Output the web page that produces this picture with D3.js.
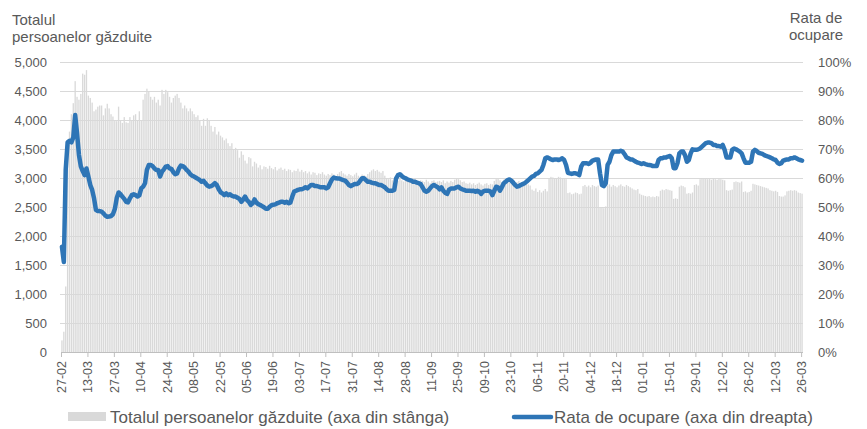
<!DOCTYPE html>
<html><head><meta charset="utf-8">
<script src="https://cdn.jsdelivr.net/npm/d3@7"></script>
<style>
html,body{margin:0;padding:0;background:#fff;}
svg text{font-family:"Liberation Sans",Arial,sans-serif;fill:#595959;}
</style></head>
<body><svg id="c" width="867" height="429"></svg>
<script>
// ---- data ----
const startDate = new Date(2022, 1, 27);
const endDate = new Date(2023, 2, 27);
const categories = d3.timeDay.range(startDate, endDate).map(d3.timeFormat("%d-%m"));
const tickLabels = ["27-02","13-03","27-03","10-04","24-04","08-05","22-05","05-06","19-06","03-07","17-07","31-07","14-08","28-08","11-09","25-09","09-10","23-10","06-11","20-11","04-12","18-12","01-01","15-01","29-01","12-02","26-02","12-03","26-03"];
const leftTicks = [0,500,1000,1500,2000,2500,3000,3500,4000,4500,5000];
const rightTicks = [0,10,20,30,40,50,60,70,80,90,100];
const hosted = [
200,350,1130,3500,3800,4100,4290,4670,4400,4350,
4450,4800,4780,4860,4420,4380,4300,4150,4180,4230,
4250,4250,4080,4200,4280,4200,4100,4060,4000,3980,
4230,4000,3950,4050,3960,3950,4050,4000,4080,4100,
4000,4150,4000,4350,4450,4540,4500,4400,4350,4400,
4300,4350,4250,4520,4450,4520,4480,4400,4300,4380,
4420,4450,4380,4300,4200,4250,4200,4150,4200,4150,
4100,4050,4080,4000,3900,4020,3900,4030,4000,3900,
3800,3880,3750,3800,3730,3700,3650,3680,3600,3550,
3600,3500,3520,3480,3350,3460,3400,
3300,3250,3360,3340,3200,3280,3250,3180,3220,3150,
3200,3190,3160,3210,3170,3150,3190,3130,3160,3180,
3140,3160,3120,3150,3140,3100,3130,3120,3160,3110,
3140,3100,3120,3080,3110,3060,3100,3090,3050,3080,
3070,3100,3060,3040,3070,3050,3080,3060,3030,3070,
3100,3120,3080,3060,3040,3070,3050,3030,3060,3090,
3040,3020,3060,3050,3030,3070,3100,3130,3150,3120,
3140,3110,3090,3120,3040,3000,2980,3010,2960,2990,
2970,2950,3000,2960,2940,2980,2970,2930,2960,2950,
2990,2940,2920,2960,2950,2930,2970,2940,2910,2950,
2960,2930,2940,2950,2930,2960,2910,2940,2920,2950,
2930,2970,2990,2980,2960,2930,2940,2910,2900,2920,
2890,2910,2880,2900,2920,2890,2870,2900,2910,2880,
2900,2890,2950,2980,2990,2960,2930,2970,2990,2950,
2920,2960,2940,2910,2930,2950,2900,2920,2880,2900,
2890,2870,2800,2780,2820,2760,2790,2750,2780,2810,
2770,3000,3020,3010,2990,3000,3020,3010,2990,3000,
2980,2740,2750,2720,2730,2750,2740,2720,2730,2860,
2880,2850,2870,2840,2880,2860,2850,2870,2500,2500,
2480,2510,2870,2890,2850,2880,2860,2840,2870,2890,
2860,2850,2880,2860,2840,2820,2800,2790,2810,2730,
2710,2700,2690,2680,2690,2670,2680,2670,2690,2680,
2780,2800,2790,2810,2800,2790,2780,2640,2650,2640,
2850,2870,2860,2840,2730,2740,2730,2750,2880,2890,
2870,2980,2990,3000,2990,2980,2990,2970,2990,2980,
2970,2990,2980,2970,2960,2790,2780,2790,2800,2930,
2940,2930,2920,2940,2760,2770,2750,2760,2780,2900,
2890,2880,2870,2860,2850,2840,2830,2820,2790,2780,
2770,2780,2760,2690,2680,2680,2700,2770,2780,2790,
2780,2790,2780,2750,2740,2730];
const occupancy = [
36.3,31.0,63.0,72.3,72.8,72.3,74.0,81.7,75.4,68.0,
64.0,62.4,61.0,63.3,60.5,57.6,55.9,53.0,49.0,48.6,
48.6,48.4,47.8,47.0,46.6,46.7,46.9,47.5,49.3,53.0,
55.0,54.4,53.6,52.8,51.8,51.6,53.0,54.1,54.4,54.1,
53.6,54.0,56.4,57.0,58.2,62.8,64.5,64.5,64.1,63.3,
62.8,62.8,60.5,62.2,63.0,63.9,64.1,63.3,63.1,62.0,
61.3,61.6,63.3,64.3,64.1,63.6,62.8,62.2,61.3,60.8,
60.5,60.1,59.7,59.3,58.7,59.0,58.2,57.4,57.0,57.2,
57.6,58.2,57.6,56.2,55.1,54.7,54.1,54.7,54.1,54.4,
53.9,53.6,53.6,53.2,52.8,51.8,52.6,53.6,52.4,51.8,
50.7,51.3,52.6,51.5,51.0,50.7,50.3,49.9,49.4,49.4,
50.1,50.6,50.8,50.9,51.3,51.5,51.8,51.8,51.5,51.8,
51.3,51.5,53.6,55.3,55.6,55.9,56.1,56.1,56.4,56.8,
56.4,57.0,57.6,57.6,57.2,57.2,57.0,56.8,56.8,56.8,
56.4,56.8,58.2,59.5,60.2,59.9,59.8,59.8,59.5,59.3,
59.1,58.4,57.6,57.2,57.6,57.9,57.9,58.2,59.1,59.9,
59.9,59.3,58.7,58.7,58.4,58.2,58.2,57.9,57.6,57.6,
57.2,56.8,56.1,55.6,55.6,55.6,55.9,59.9,61.0,61.3,
60.7,60.2,59.9,59.5,59.3,59.1,58.7,58.7,58.4,58.2,
57.9,56.8,55.6,55.3,55.6,56.4,57.2,57.6,57.2,56.8,
56.1,56.8,55.6,54.9,54.5,55.9,56.4,56.4,56.4,56.8,
57.0,56.4,56.1,55.9,55.6,55.6,55.6,55.5,55.6,55.3,
55.6,55.3,54.5,55.3,55.6,55.6,55.6,55.3,54.1,55.6,
57.0,56.8,55.6,56.8,58.2,58.7,59.3,59.5,59.1,58.4,
57.6,57.0,57.2,57.6,57.9,58.2,58.7,59.3,59.9,60.5,
60.7,61.4,61.6,62.2,62.8,64.5,66.8,67.1,66.8,66.4,
66.2,66.4,66.4,66.2,66.4,66.8,66.2,64.5,61.8,61.6,
61.4,61.6,61.6,61.4,61.0,63.9,65.1,65.1,65.1,64.8,
65.3,66.0,66.2,66.4,66.4,61.6,57.6,57.2,58.1,64.5,
65.6,67.9,69.1,69.1,69.1,69.1,69.4,69.1,68.2,67.1,
66.8,66.4,66.4,66.0,65.6,65.3,65.1,64.8,65.1,64.8,
64.6,64.5,64.4,64.1,64.1,64.1,66.2,66.8,66.8,67.1,
67.1,67.4,67.6,66.8,63.4,63.4,65.1,68.5,69.1,69.1,
67.9,65.6,66.2,68.5,69.9,69.7,69.7,69.9,70.2,70.8,
71.4,72.0,72.2,72.2,72.0,71.4,71.4,71.0,71.0,70.8,
71.4,69.7,67.1,67.1,67.1,69.7,70.2,69.9,69.5,69.1,
68.5,66.8,65.3,65.3,65.3,65.6,69.1,69.7,69.3,68.7,
68.5,68.3,67.9,67.6,67.4,67.1,66.8,66.4,66.2,65.3,
64.8,65.1,66.0,66.2,66.4,66.4,66.8,66.8,67.1,66.8,
66.4,66.2,66.0];

// ---- chart ----
const svg = d3.select("#c");
const x0 = 61, x1 = 803, yTop = 62, yBot = 352;
const n = Math.min(categories.length, hosted.length, occupancy.length);
const idx = d3.range(n);
const x = d3.scaleBand().domain(idx).range([x0, x1]).paddingInner(0.3).paddingOuter(0.15);
const yL = d3.scaleLinear().domain([0, 5000]).range([yBot, yTop]);
const yR = d3.scaleLinear().domain([0, 100]).range([yBot, yTop]);

// gridlines
svg.append("g").selectAll("line").data(leftTicks.slice(1)).join("line")
  .attr("x1", x0 - 1).attr("x2", x1).attr("y1", d => yL(d) + 0.5).attr("y2", d => yL(d) + 0.5)
  .attr("stroke", "#d9d9d9").attr("stroke-width", 1);

// bars
svg.append("g").selectAll("rect").data(idx).join("rect")
  .attr("x", i => x(i)).attr("width", x.bandwidth())
  .attr("y", i => yL(hosted[i])).attr("height", i => yBot - yL(hosted[i]))
  .attr("fill", "#d9d9d9");

// x axis
const step = (x1 - x0) / n;
svg.append("line").attr("x1", x0).attr("x2", x1).attr("y1", yBot + 0.5).attr("y2", yBot + 0.5)
  .attr("stroke", "#bfbfbf");
const tickIdx = idx.filter(i => tickLabels.includes(categories[i]) && i % 14 === 0);
svg.append("g").selectAll("line").data(tickIdx).join("line")
  .attr("x1", i => x0 + i * step + 0.5).attr("x2", i => x0 + i * step + 0.5)
  .attr("y1", yBot).attr("y2", yBot + 5).attr("stroke", "#bfbfbf");
svg.append("g").selectAll("text").data(tickIdx).join("text")
  .attr("transform", i => `translate(${x(i) + x.bandwidth() / 2 + 4},${yBot + 9}) rotate(-90)`)
  .attr("text-anchor", "end").style("font-size", "12.5px")
  .text(i => categories[i]);

// left axis labels
svg.append("g").selectAll("text").data(leftTicks).join("text")
  .attr("x", 47).attr("y", d => yL(d) + 4.5).attr("text-anchor", "end")
  .style("font-size", "13px").text(d => d3.format(",")(d));
// right axis labels
svg.append("g").selectAll("text").data(rightTicks).join("text")
  .attr("x", 818).attr("y", d => yR(d) + 4.5).attr("text-anchor", "start")
  .style("font-size", "13px").text(d => d + "%");

// axis titles
svg.append("text").attr("x", 12).attr("y", 25).style("font-size", "15px").text("Totalul");
svg.append("text").attr("x", 12).attr("y", 42).style("font-size", "15px").text("persoanelor găzduite");
svg.append("text").attr("x", 816).attr("y", 23).attr("text-anchor", "middle").style("font-size", "15px").text("Rata de");
svg.append("text").attr("x", 816).attr("y", 40).attr("text-anchor", "middle").style("font-size", "15px").text("ocupare");

// line
const line = d3.line().x(i => x(i) + x.bandwidth() / 2).y(i => yR(occupancy[i])).curve(d3.curveLinear);
svg.append("path").datum(idx).attr("d", line).attr("fill", "none")
  .attr("stroke", "#2e75b6").attr("stroke-width", 4.5).attr("stroke-linejoin", "round").attr("stroke-linecap", "round");

// legend
svg.append("rect").attr("x", 68).attr("y", 412).attr("width", 38).attr("height", 9).attr("fill", "#d9d9d9");
svg.append("text").attr("x", 110).attr("y", 423).style("font-size", "17px").text("Totalul persoanelor găzduite (axa din stânga)");
svg.append("line").attr("x1", 514).attr("x2", 551).attr("y1", 417).attr("y2", 417)
  .attr("stroke", "#2e75b6").attr("stroke-width", 4.5).attr("stroke-linecap", "round");
svg.append("text").attr("x", 554).attr("y", 423).style("font-size", "17px").text("Rata de ocupare (axa din dreapta)");
</script></body></html>
